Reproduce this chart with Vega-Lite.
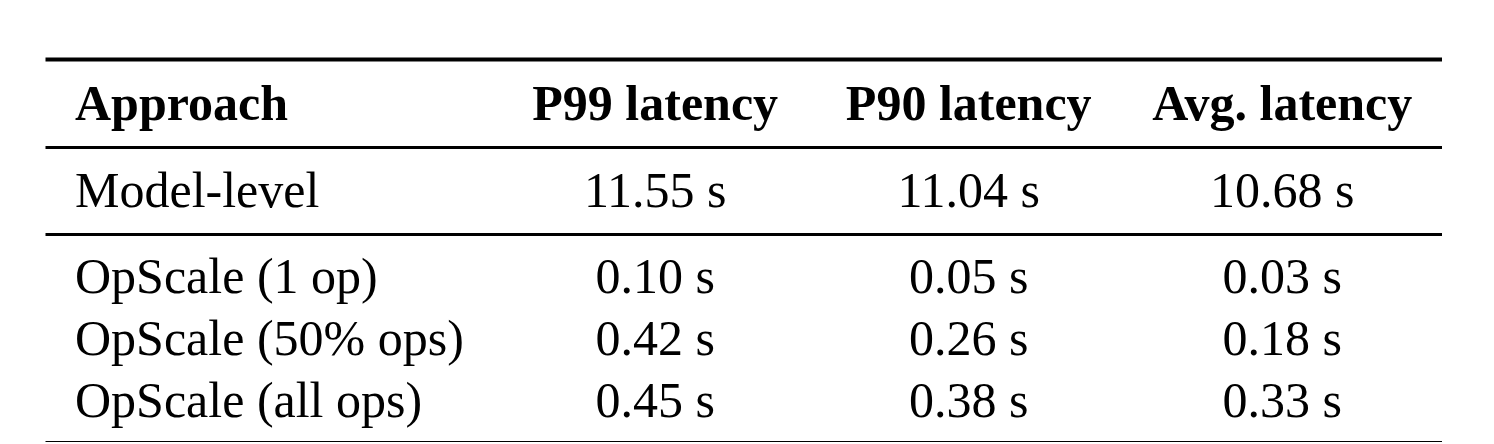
{
  "$schema": "https://vega.github.io/schema/vega-lite/v6.json",
  "background": "white",
  "padding": {"left": 45, "top": 59, "right": 0, "bottom": 0},
  "bounds": "flush",
  "spacing": 0,
  "config": {
    "view": {"stroke": null},
    "text": {"font": "Liberation Serif", "fontSize": 50, "color": "black", "baseline": "middle"},
    "axis": {"domainColor": "black", "ticks": false, "labels": false, "grid": false, "title": null}
  },
  "datasets": {
    "header": [
      {"col": "approach", "label": "Approach"},
      {"col": "p99", "label": "P99 latency"},
      {"col": "p90", "label": "P90 latency"},
      {"col": "avg", "label": "Avg. latency"}
    ],
    "rows": [
      {"group": "model", "approach": "Model-level", "p99": "11.55 s", "p90": "11.04 s", "avg": "10.68 s"},
      {"group": "opscale", "approach": "OpScale (1 op)", "p99": "0.10 s", "p90": "0.05 s", "avg": "0.03 s"},
      {"group": "opscale", "approach": "OpScale (50% ops)", "p99": "0.42 s", "p90": "0.26 s", "avg": "0.18 s"},
      {"group": "opscale", "approach": "OpScale (all ops)", "p99": "0.45 s", "p90": "0.38 s", "avg": "0.33 s"}
    ]
  },
  "resolve": {"scale": {"x": "independent", "y": "independent"}, "axis": {"x": "independent", "y": "independent"}},
  "vconcat": [
    {
      "width": 1397,
      "height": 88,
      "data": {"name": "header"},
      "layer": [
        {
          "transform": [{"filter": "datum.col === 'approach'"}],
          "mark": {"type": "text", "align": "left", "dx": -266.7, "dy": 2, "fontWeight": "bold"},
          "encoding": {
            "x": {"field": "col", "type": "nominal",
                  "scale": {"type": "point", "domain": ["approach", "p99", "p90", "avg"], "padding": 0.728, "align": 0.65},
                  "axis": {"orient": "top", "domainWidth": 4}},
            "text": {"field": "label"}
          }
        },
        {
          "transform": [{"filter": "datum.col !== 'approach'"}],
          "mark": {"type": "text", "align": "center", "dy": 2, "fontWeight": "bold"},
          "encoding": {
            "x": {"field": "col", "type": "nominal",
                  "scale": {"type": "point", "domain": ["approach", "p99", "p90", "avg"], "padding": 0.728, "align": 0.65},
                  "axis": {"orient": "top", "domainWidth": 4}},
            "text": {"field": "label"}
          }
        }
      ]
    },
    {
      "width": 1397,
      "height": 87,
      "data": {"name": "rows"},
      "transform": [{"filter": "datum.group === 'model'"}],
      "layer": [
        {
          "mark": {"type": "text", "align": "left", "dx": -266.7, "dy": 1},
          "encoding": {
            "x": {"datum": "approach", "type": "nominal",
                  "scale": {"type": "point", "domain": ["approach", "p99", "p90", "avg"], "padding": 0.728, "align": 0.65},
                  "axis": {"orient": "top", "domainWidth": 3}},
            "text": {"field": "approach"}
          }
        },
        {
          "transform": [{"fold": ["p99", "p90", "avg"], "as": ["col", "value"]}],
          "mark": {"type": "text", "align": "center", "dy": 1},
          "encoding": {
            "x": {"field": "col", "type": "nominal",
                  "scale": {"type": "point", "domain": ["approach", "p99", "p90", "avg"], "padding": 0.728, "align": 0.65},
                  "axis": {"orient": "top", "domainWidth": 3}},
            "text": {"field": "value"}
          }
        }
      ]
    },
    {
      "width": 1397,
      "height": 208,
      "data": {"name": "rows"},
      "transform": [{"filter": "datum.group === 'opscale'"}],
      "resolve": {"axis": {"x": "independent"}},
      "layer": [
        {
          "mark": {"type": "text", "align": "left", "dx": -266.7, "dy": 2},
          "encoding": {
            "x": {"datum": "approach", "type": "nominal",
                  "scale": {"type": "point", "domain": ["approach", "p99", "p90", "avg"], "padding": 0.728, "align": 0.65},
                  "axis": {"orient": "top", "domainWidth": 3}},
            "y": {"field": "approach", "type": "nominal",
                  "scale": {"type": "point", "domain": ["OpScale (1 op)", "OpScale (50% ops)", "OpScale (all ops)"], "padding": 0.691},
                  "axis": null},
            "text": {"field": "approach"}
          }
        },
        {
          "transform": [{"fold": ["p99", "p90", "avg"], "as": ["col", "value"]}],
          "mark": {"type": "text", "align": "center", "dy": 2},
          "encoding": {
            "x": {"field": "col", "type": "nominal",
                  "scale": {"type": "point", "domain": ["approach", "p99", "p90", "avg"], "padding": 0.728, "align": 0.65},
                  "axis": {"orient": "bottom", "domainWidth": 3}},
            "y": {"field": "approach", "type": "nominal",
                  "scale": {"type": "point", "domain": ["OpScale (1 op)", "OpScale (50% ops)", "OpScale (all ops)"], "padding": 0.691},
                  "axis": null},
            "text": {"field": "value"}
          }
        }
      ]
    }
  ]
}
